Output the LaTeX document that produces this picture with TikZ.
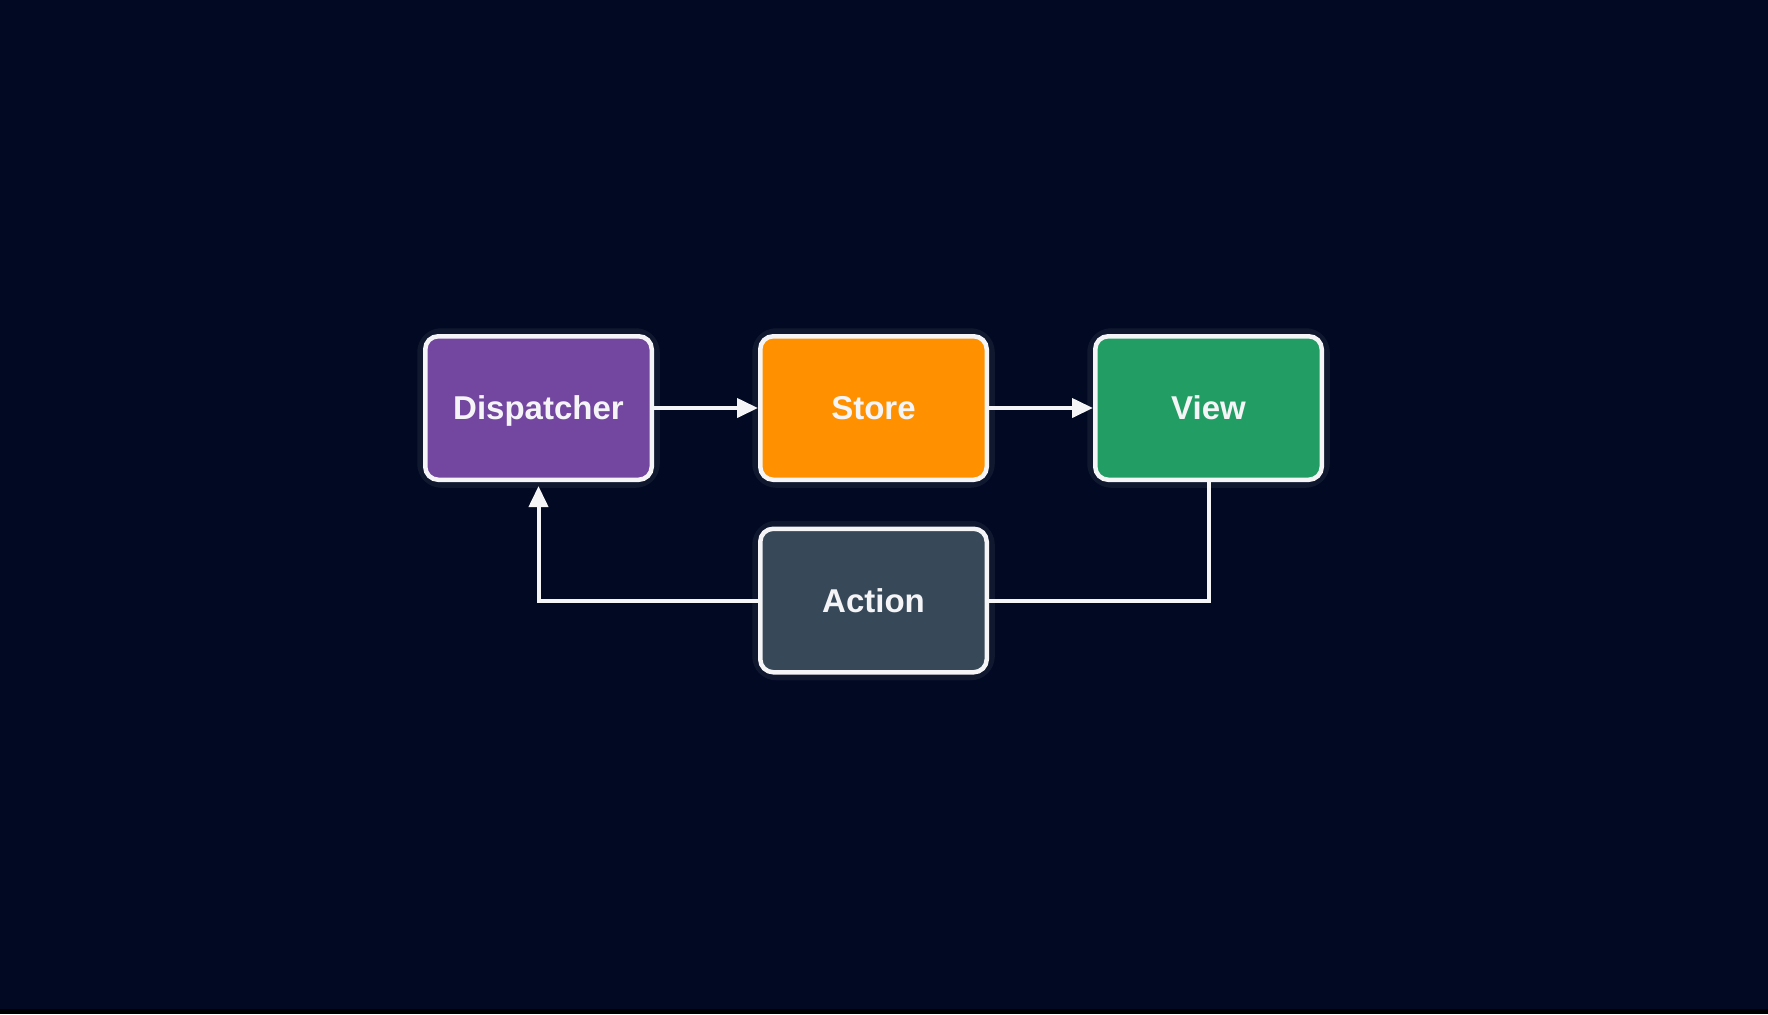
\documentclass[tikz,border=0pt]{standalone}
\usepackage{fontspec}
\setmainfont{Liberation Sans}
\usetikzlibrary{arrows.meta}
\definecolor{bg}{RGB}{1,10,34}
\definecolor{dispc}{RGB}{115,71,160}
\definecolor{storec}{RGB}{255,145,0}
\definecolor{viewc}{RGB}{34,158,100}
\definecolor{actc}{RGB}{55,73,88}
\definecolor{linec}{RGB}{245,245,248}
\tikzset{
  box/.style={draw=linec, line width=2.25pt, rounded corners=6.5pt,
    minimum width=113.25pt, minimum height=71.75pt, inner sep=0pt,
    text height=11.8pt, text depth=0pt,
    text=linec, font=\fontsize{16.5}{20}\selectfont\bfseries},
  glow/.style={draw=white, draw opacity=0.06, line width=8pt, rounded corners=8pt,
    minimum width=113.25pt, minimum height=71.75pt, inner sep=0pt},
  conn/.style={draw=linec, line width=2pt},
  tip/.style={-{Triangle[length=10.5pt,width=9.5pt]}}
}
\begin{document}
\begin{tikzpicture}[x=0.5pt,y=-0.5pt]
\fill[bg] (0,0) rectangle (1768,1014);
\fill[black] (0,1009) rectangle (1768,1014);
\useasboundingbox (0,0) rectangle (1768,1014);
\node[glow] (g1) at (538.5,408) {};
\node[glow] (g2) at (873.5,408) {};
\node[glow] (g3) at (1208.5,408) {};
\node[glow] (g4) at (873.5,600.5) {};
\node[box, fill=dispc] (disp) at (538.5,408) {Dispatcher};
\node[box, fill=storec] (store) at (873.5,408) {Store};
\node[box, fill=viewc] (view) at (1208.5,408) {View};
\node[box, fill=actc] (act) at (873.5,600.5) {Action};
\draw[conn, tip] (disp.east) -- (store.west);
\draw[conn, tip] (store.east) -- (view.west);
\draw[conn] (view.south) |- (act.east);
\draw[conn, tip, shorten >=2pt] (act.west) -| (disp.south);
\end{tikzpicture}
\end{document}
